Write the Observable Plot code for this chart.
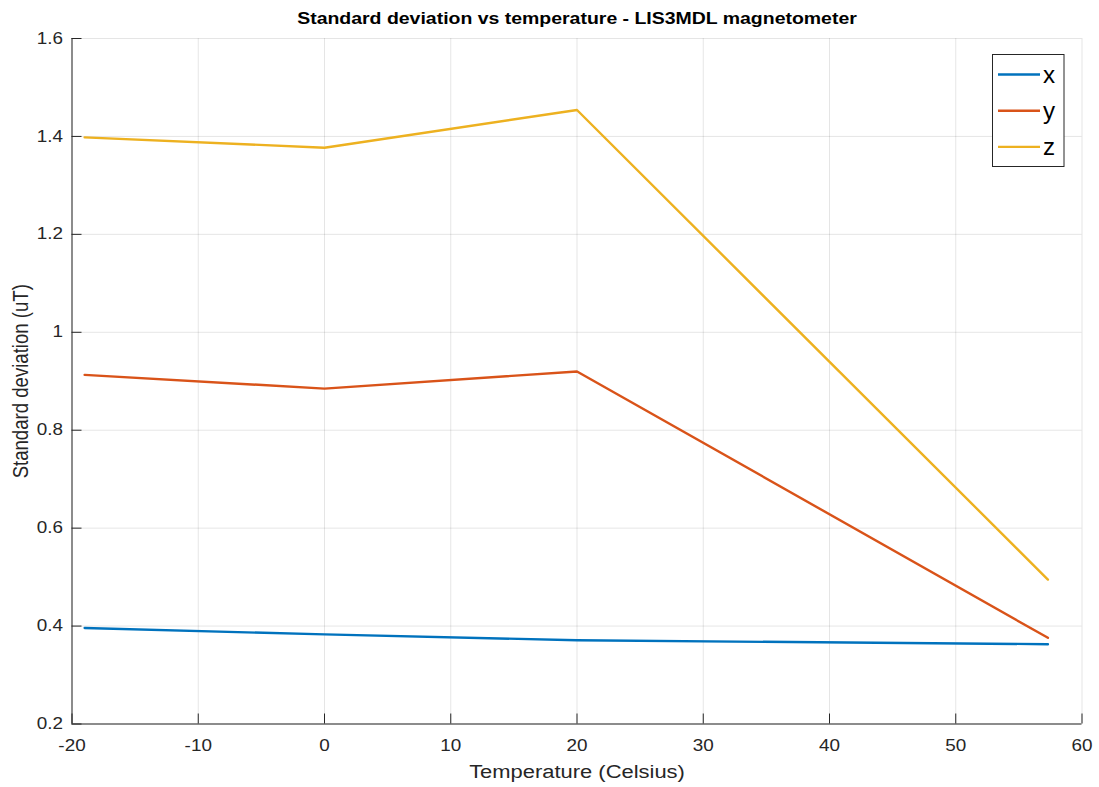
<!DOCTYPE html>
<html>
<head>
<meta charset="utf-8">
<script src="https://cdn.jsdelivr.net/npm/d3@7"></script>
<script src="https://cdn.jsdelivr.net/npm/@observablehq/plot@0.6"></script>
<style>
  html, body { margin: 0; padding: 0; background: #fff; }
  #chart svg { display: block; font-family: "Liberation Sans", Arial, sans-serif; }
</style>
</head>
<body>
<div id="chart"></div>
<script>
// Temperatures (°C) at which the noise was measured
const temperature = [-19, 0, 20, 57.3];
// Standard deviation (uT) per axis
const stdX = [0.396, 0.383, 0.371, 0.363];
const stdY = [0.913, 0.885, 0.920, 0.376];
const stdZ = [1.398, 1.377, 1.454, 0.495];

const seriesNames = ["x", "y", "z"];
const seriesColors = ["#0072BD", "#D95319", "#EDB120"];

const xTicks = [-20, -10, 0, 10, 20, 30, 40, 50, 60];
const yTicks = [0.2, 0.4, 0.6, 0.8, 1, 1.2, 1.4, 1.6];
const xDomain = [-20, 60];
const yDomain = [0.2, 1.6];

const titleText = "Standard deviation vs temperature - LIS3MDL magnetometer";
const xLabel = "Temperature (Celsius)";
const yLabel = "Standard deviation (uT)";

const rows = [];
[stdX, stdY, stdZ].forEach((vals, i) => {
  vals.forEach((v, j) => rows.push({series: seriesNames[i], t: temperature[j], sd: v}));
});

const axisColor = "#262626";
const W = 1099, H = 787;
const margin = {left: 71.5, right: 17.5, top: 38, bottom: 63.5};
const frameW = W - margin.left - margin.right;
const frameH = H - margin.top - margin.bottom;
const tickLen = 10;
// the figure's text is drawn slightly wide
const textStretch = 1.18;

const chart = Plot.plot({
  width: W,
  height: H,
  marginLeft: margin.left,
  marginRight: margin.right,
  marginTop: margin.top,
  marginBottom: margin.bottom,
  style: {fontFamily: "Liberation Sans, Arial, sans-serif", fontSize: "16px", background: "#fff"},
  x: {domain: xDomain, ticks: xTicks},
  y: {domain: yDomain, ticks: yTicks},
  color: {domain: seriesNames, range: seriesColors},
  marks: [
    Plot.gridX(xTicks, {stroke: "#000", strokeOpacity: 0.1}),
    Plot.gridY(yTicks, {stroke: "#000", strokeOpacity: 0.1}),
    Plot.ruleX([xDomain[0]], {stroke: axisColor}),
    Plot.ruleY([yDomain[0]], {stroke: axisColor}),
    // tick marks pointing into the plot area
    Plot.tickX(xTicks, {x: d => d, stroke: axisColor, insetTop: frameH - tickLen}),
    Plot.tickY(yTicks, {y: d => d, stroke: axisColor, insetRight: frameW - tickLen}),
    // tick labels
    Plot.axisX(xTicks, {tickSize: 0, tickPadding: 16, fill: axisColor, fontSize: 16, label: null, tickFormat: d => String(d)}),
    Plot.axisY(yTicks, {tickSize: 0, tickPadding: 9, fill: axisColor, fontSize: 16, label: null, tickFormat: d => String(d)}),
    Plot.line(rows, {x: "t", y: "sd", z: "series", stroke: "series", strokeWidth: 2.4}),
    // title and axis titles
    Plot.text([titleText], {frameAnchor: "top", lineAnchor: "middle", dy: -20, fontWeight: "bold", fontSize: 16.5, fill: "#000"}),
    Plot.text([xLabel], {frameAnchor: "bottom", lineAnchor: "middle", dy: 48, fontSize: 18.6, fill: axisColor}),
    Plot.text([yLabel], {frameAnchor: "left", textAnchor: "middle", lineAnchor: "middle", dx: -51, rotate: -90, fontSize: 18.6, fill: axisColor})
  ]
});

document.getElementById("chart").appendChild(chart);

// widen every label horizontally about its anchor point
d3.select(chart).selectAll("text").each(function() {
  const el = d3.select(this);
  let t = el.attr("transform");
  if (!t) {
    const x = +el.attr("x") || 0, y = +el.attr("y") || 0;
    el.attr("transform", `translate(${x},${y}) scale(${textStretch},1) translate(${-x},${-y})`);
  } else if (/rotate\(\s*-?90/.test(t)) {
    el.attr("transform", `${t} scale(1,${textStretch})`);
  } else {
    el.attr("transform", `${t} scale(${textStretch},1)`);
  }
});

// Legend box in the upper right corner
const svg = d3.select(chart);
const lg = svg.append("g").attr("class", "legend");
lg.append("rect")
  .attr("x", 992.5).attr("y", 54.5).attr("width", 71.5).attr("height", 112)
  .attr("fill", "#fff").attr("stroke", axisColor).attr("stroke-width", 1);
seriesNames.forEach((name, i) => {
  const cy = 74.5 + i * 36.2;
  lg.append("line")
    .attr("x1", 998).attr("x2", 1040).attr("y1", cy).attr("y2", cy)
    .attr("stroke", seriesColors[i]).attr("stroke-width", 2.4);
  lg.append("text")
    .attr("transform", `translate(1043,${cy}) scale(1.05,1)`)
    .attr("dy", "0.36em")
    .attr("text-anchor", "start")
    .attr("font-size", 23).attr("fill", "#000")
    .attr("font-family", "Liberation Sans, Arial, sans-serif")
    .text(name);
});
</script>
</body>
</html>
